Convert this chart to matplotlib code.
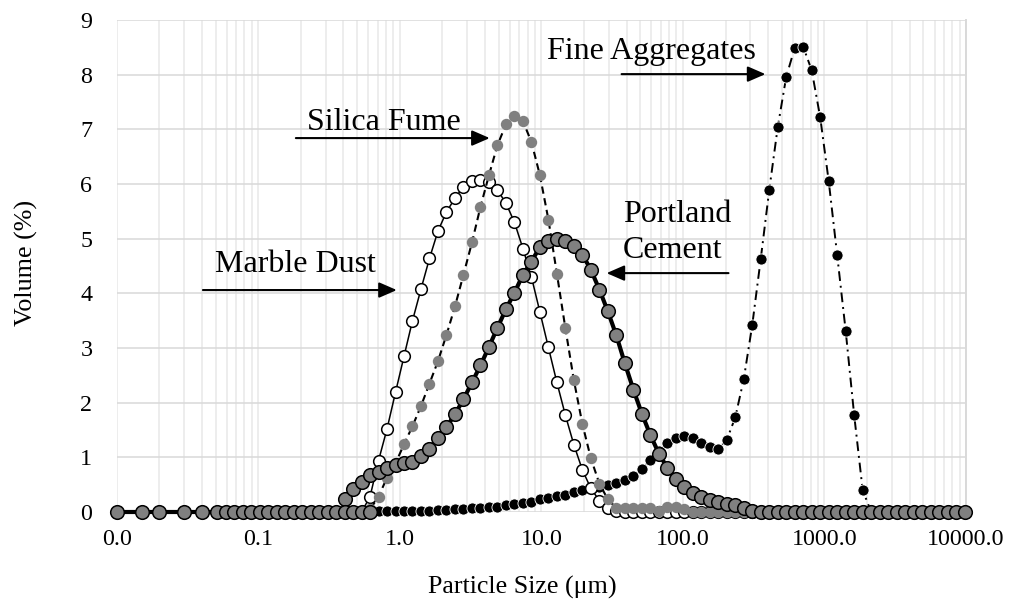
import numpy as np
import matplotlib
matplotlib.use('Agg')
import matplotlib.pyplot as plt
from matplotlib.ticker import LogLocator, FixedLocator, FixedFormatter, NullFormatter

plt.rcParams['font.family'] = ['Liberation Serif', 'DejaVu Serif']

# particle size classes (um), shared by all four curves
size = [0.0513, 0.0589, 0.0676, 0.0776, 0.0891, 0.1023, 0.1175, 0.1349, 0.1549, 0.1778,
        0.2042, 0.2344, 0.2692, 0.3090, 0.3548, 0.4074, 0.4677, 0.5370, 0.6166, 0.7079,
        0.8128, 0.9333, 1.072, 1.230, 1.413, 1.622, 1.862, 2.138, 2.455, 2.818,
        3.236, 3.715, 4.266, 4.898, 5.623, 6.457, 7.413, 8.511, 9.772, 11.22,
        12.88, 14.79, 16.98, 19.50, 22.39, 25.70, 29.51, 33.88, 38.90, 44.67,
        51.29, 58.88, 67.61, 77.62, 89.13, 102.3, 117.5, 134.9, 154.9, 177.8,
        204.2, 234.4, 269.2, 309.0, 354.8, 407.4, 467.7, 537.0, 616.6, 707.9,
        812.8, 933.3, 1072, 1230, 1413, 1622, 1862, 2138, 2455, 2818,
        3236, 3715, 4266, 4898, 5623, 6457, 7413, 8511, 9772]

nan = np.nan

fine_aggregates = [nan] * 17 + [
    0.02, 0.02, 0.02, 0.02, 0.02, 0.02, 0.02, 0.02, 0.02,
    0.03, 0.04, 0.05, 0.06, 0.07, 0.08, 0.09, 0.10, 0.13, 0.15,
    0.17, 0.19, 0.23, 0.25, 0.29, 0.32, 0.36, 0.40, 0.43, 0.46,
    0.49, 0.53, 0.58, 0.65, 0.78, 0.95, 1.12, 1.27, 1.36, 1.39,
    1.36, 1.27, 1.19, 1.15, 1.32, 1.73, 2.43, 3.42, 4.63, 5.89,
    7.04, 7.96, 8.49, 8.51, 8.08, 7.22, 6.05, 4.70, 3.31, 1.77,
    0.40, 0, 0, 0, 0, 0, 0, 0, 0, 0, 0, 0, 0]

marble_dust = [0] * 18 + [
    0.28, 0.94, 1.52, 2.19, 2.85, 3.50, 4.08, 4.64, 5.14, 5.49,
    5.74, 5.95, 6.05, 6.07, 6.03, 5.89, 5.65, 5.30, 4.82, 4.30,
    3.66, 3.01, 2.37, 1.77, 1.23, 0.77, 0.43, 0.21, 0.07, 0.02] + [0] * 41

silica_fume = [0] * 18 + [
    0.05, 0.28, 0.63, 0.89, 1.24, 1.57, 1.94, 2.35, 2.76, 3.24,
    3.76, 4.34, 4.93, 5.58, 6.16, 6.71, 7.09, 7.24, 7.15, 6.77,
    6.16, 5.35, 4.36, 3.36, 2.41, 1.61, 0.98, 0.52, 0.23, 0.08,
    0.07, 0.07, 0.07, 0.08, 0.02, 0.10, 0.10, 0.05] + [0] * 33

portland_cement = [nan] * 15 + [
    0.23, 0.42, 0.55, 0.68, 0.74, 0.80, 0.86, 0.89, 0.92, 1.03,
    1.16, 1.36, 1.55, 1.79, 2.06, 2.37, 2.68, 3.02, 3.37, 3.71,
    4.01, 4.34, 4.58, 4.85, 4.96, 4.99, 4.96, 4.86, 4.71, 4.43,
    4.07, 3.67, 3.23, 2.72, 2.24, 1.80, 1.41, 1.07, 0.81, 0.60,
    0.45, 0.34, 0.27, 0.22, 0.18, 0.15, 0.12, 0.07, 0.02] + [0] * 25

# fine end of the cement record (all zero)
pc_tail_size = [0.01, 0.015, 0.02, 0.03, 0.04, 0.0513, 0.0589, 0.0676, 0.0776, 0.0891,
                0.1023, 0.1175, 0.1349, 0.1549, 0.1778, 0.2042, 0.2344, 0.2692, 0.3090,
                0.3548, 0.4074, 0.4677, 0.5370, 0.6166]
pc_tail = [0] * len(pc_tail_size)

x_ticks = [0.01, 0.1, 1, 10, 100, 1000, 10000]
x_tick_labels = ['0.0', '0.1', '1.0', '10.0', '100.0', '1000.0', '10000.0']
y_ticks = [0, 1, 2, 3, 4, 5, 6, 7, 8, 9]

fig = plt.figure(figsize=(10.16, 6.08), dpi=100)
ax = fig.add_axes([0.1148, 0.1579, 0.8360, 0.8092])

grey = '#808080'

ax.plot(size, fine_aggregates, color='black', lw=1.4, dashes=(5, 2.5, 1, 2.5),
        marker='o', ms=8.0, mfc='black', mec='white', mew=0.6, clip_on=False, zorder=3)
ax.plot(size, marble_dust, color='black', lw=1.1,
        marker='o', ms=8.4, mfc='white', mec='black', mew=1.1, clip_on=False, zorder=4)
ax.plot(size, silica_fume, color='black', lw=1.5, dashes=(3.5, 2.2),
        marker='o', ms=8.2, mfc=grey, mec=grey, mew=0, clip_on=False, zorder=5)
ax.plot(size, portland_cement, color='black', lw=3.0,
        marker='o', ms=9.8, mfc=grey, mec='black', mew=1.1, clip_on=False, zorder=6)
ax.plot(pc_tail_size, pc_tail, color='black', lw=3.0,
        marker='o', ms=9.8, mfc=grey, mec='black', mew=1.1, clip_on=False, zorder=6)

ax.set_xscale('log')
ax.set_xlim(0.01, 10000)
ax.set_ylim(0, 9)

ax.xaxis.set_major_locator(FixedLocator(x_ticks))
ax.xaxis.set_major_formatter(FixedFormatter(x_tick_labels))
ax.xaxis.set_minor_locator(LogLocator(base=10, subs=np.arange(2, 10), numticks=20))
ax.xaxis.set_minor_formatter(NullFormatter())
ax.set_yticks(y_ticks)

ax.tick_params(axis='both', which='both', length=0)
ax.tick_params(axis='x', labelsize=17.3, pad=12.5)
ax.tick_params(axis='y', labelsize=17.3, pad=17.5)

ax.set_axisbelow(True)
ax.grid(axis='x', which='both', color='#EDEDED', lw=1.4)
ax.grid(axis='y', which='major', color='#D9D9D9', lw=1.1)

for side in ['top', 'left', 'bottom']:
    ax.spines[side].set_visible(False)
ax.spines['right'].set_color('#D9D9D9')
ax.spines['right'].set_linewidth(1.4)

ax.set_xlabel('Particle Size (μm)', fontsize=18.7)
ax.xaxis.set_label_coords(0.478, -0.13)
ax.set_ylabel('Volume (%)', fontsize=18.7)
ax.yaxis.set_label_coords(-0.092, 0.506)

# labels with arrows
arrow = dict(arrowstyle='-|>,head_length=0.54,head_width=0.235', color='black', lw=1.5,
             shrinkA=0, shrinkB=0, mutation_scale=20)
ax.annotate('', xy=(383, 8.01), xytext=(36.9, 8.01), arrowprops=arrow)
ax.text(10.9, 8.29, 'Fine Aggregates', fontsize=23, va='baseline', ha='left')

ax.annotate('', xy=(4.32, 6.84), xytext=(0.1845, 6.84), arrowprops=arrow)
ax.text(0.2207, 6.99, 'Silica Fume', fontsize=23, va='baseline', ha='left')

ax.annotate('', xy=(0.953, 4.06), xytext=(0.0407, 4.06), arrowprops=arrow)
ax.text(0.0495, 4.39, 'Marble Dust', fontsize=23, va='baseline', ha='left')

ax.annotate('', xy=(28.9, 4.37), xytext=(210, 4.37), arrowprops=arrow)
ax.text(37.5, 5.30, 'Portland', fontsize=23, va='baseline', ha='left')
ax.text(37.5, 4.65, 'Cement', fontsize=23, va='baseline', ha='left')

fig.savefig('out.png', dpi=100)
